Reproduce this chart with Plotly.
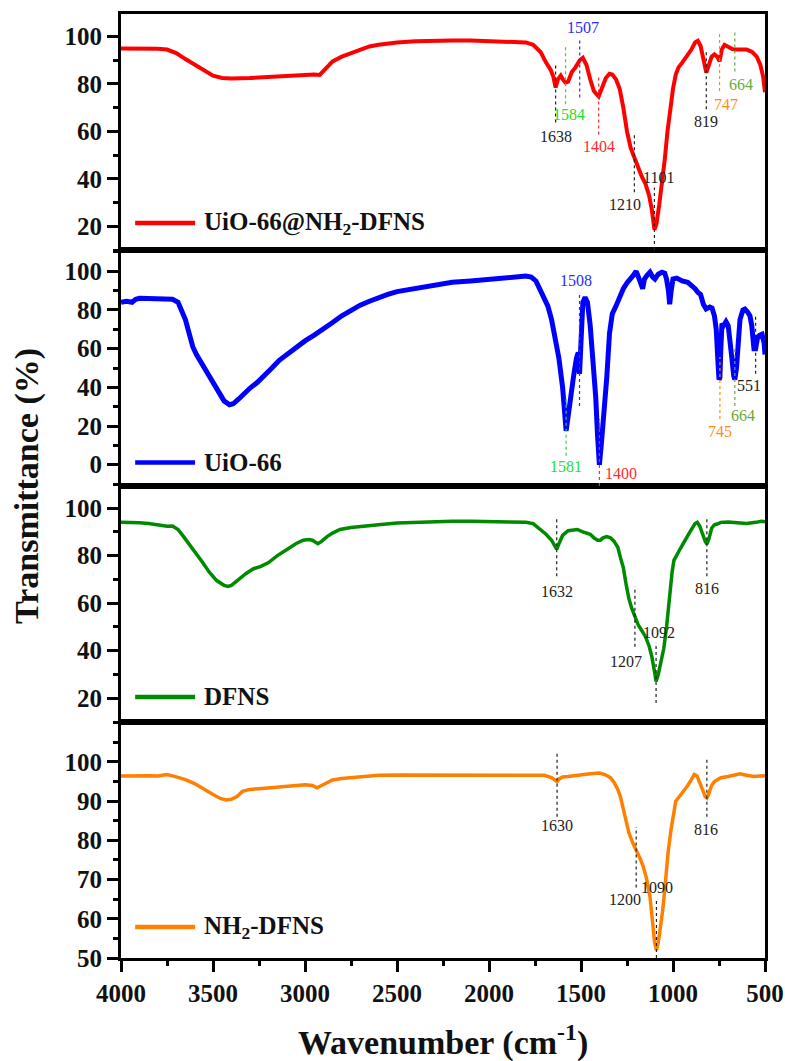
import plotly.graph_objects as go

# ---------------- data ----------------
red_wn = [4000, 3900, 3800, 3750, 3700, 3650, 3600, 3550, 3500, 3450, 3400, 3300, 3200, 3100, 3000, 2950, 2920,
          2900, 2850, 2800, 2750, 2700, 2650, 2600, 2500, 2400, 2300, 2200, 2100, 2000, 1900, 1800, 1760, 1720,
          1690, 1665, 1650, 1638, 1625, 1610, 1595, 1584, 1570, 1550, 1530, 1507, 1490, 1470, 1450, 1430, 1404,
          1385, 1365, 1345, 1330, 1310, 1290, 1270, 1250, 1230, 1210, 1190, 1170, 1150, 1130, 1115, 1101, 1090,
          1075, 1060, 1045, 1030, 1015, 1000, 985, 970, 950, 925, 900, 880, 865, 850, 835, 819, 805, 790, 775,
          760, 747, 735, 720, 700, 680, 664, 640, 600, 570, 545, 525, 510, 500]
red_t = [95, 95, 94.8, 94.5, 93, 90.5, 88, 85.5, 83.5, 82.5, 82.3, 82.5, 83, 83.5, 83.8, 84, 83.8,
         85.5, 89.5, 91.5, 93, 94.5, 95.8, 96.5, 97.5, 98, 98.3, 98.3, 98.3, 98, 97.8, 97.5, 96.5, 93.5,
         89, 86, 83, 78.5, 82, 83.5, 81.5, 80.6, 81, 85, 87, 90, 91, 88, 82, 77, 74.7,
         78, 82.5, 84.3, 84, 82, 78, 70, 60, 53, 48.5, 45, 41, 38, 33, 27, 18.5, 21,
         29, 38, 48, 60, 70, 78, 84, 87, 89, 91.5, 94.5, 97.5, 98.2, 96, 91, 84.8, 88, 91.5, 92.5,
         91.5, 89.5, 94.5, 96.5, 95.5, 94.8, 94.5, 94.5, 94.5, 93.5, 91.5, 88, 83, 76.5]

blue_wn = [4000, 3970, 3940, 3920, 3900, 3850, 3800, 3750, 3720, 3690, 3670, 3650, 3630, 3610, 3590, 3560, 3530,
           3500, 3470, 3440, 3410, 3390, 3360, 3330, 3300, 3260, 3220, 3180, 3140, 3100, 3050, 3000, 2950, 2900,
           2850, 2800, 2750, 2700, 2650, 2600, 2550, 2500, 2450, 2400, 2350, 2300, 2250, 2200, 2100, 2000, 1950,
           1900, 1850, 1800, 1770, 1745, 1720, 1700, 1680, 1660, 1640, 1620, 1600, 1590, 1581, 1570, 1555, 1540,
           1525, 1515, 1508, 1500, 1490, 1478, 1465, 1450, 1435, 1420, 1410, 1400, 1390, 1375, 1360, 1345, 1330,
           1310, 1290, 1270, 1250, 1230, 1215, 1200, 1190, 1180, 1165, 1155, 1140, 1125, 1110, 1098, 1080, 1060,
           1045, 1035, 1025, 1018, 1010, 1000, 980, 950, 920, 900, 880, 864, 850, 835, 820, 800, 788, 775, 765,
           755, 750, 745, 740, 734, 725, 712, 700, 690, 680, 670, 664, 655, 645, 636, 620, 609, 595, 582, 572,
           560, 551, 540, 528, 516, 505, 500]
blue_t = [84, 84.5, 84, 85.5, 86, 86, 86, 86, 85.5, 84, 80, 75, 68, 61, 57, 52, 48,
          42, 37, 33, 31, 31.5, 34, 37, 39.5, 42.5, 46, 50, 54, 57, 60.5, 64, 67, 70,
          73.5, 77, 80, 82.5, 84.5, 86.5, 88, 89.5, 90.2, 91, 91.8, 92.5, 93.5, 94.3, 95, 96, 96.5,
          96.9, 97, 97.5, 97, 95, 90, 86, 82, 75, 65, 55, 40, 28, 17.5, 25, 38, 46,
          55, 58, 47, 70, 84, 86.5, 84, 72, 55, 35, 15, 0, 10, 25, 45, 68, 78,
          82, 87, 91, 94, 96, 98, 100, 98, 95, 91, 96, 98, 99.5, 97, 96, 98.5, 99.5,
          99, 96, 90, 83, 90, 96, 96.5, 95, 94.3, 93, 91, 89, 88, 83, 80.5, 81.5, 81, 77, 70,
          52, 44, 45, 60, 73, 72, 74, 72, 65, 55, 46, 44, 50, 65, 75, 80, 80.5, 79, 77, 72,
          60, 60, 66, 67, 67.5, 63, 57]

green_wn = [4000, 3950, 3900, 3850, 3800, 3750, 3720, 3690, 3660, 3630, 3600, 3560, 3520, 3480, 3440, 3420, 3400,
            3360, 3320, 3280, 3240, 3200, 3150, 3100, 3050, 3010, 2980, 2960, 2930, 2910, 2880, 2850, 2810, 2750,
            2700, 2650, 2600, 2500, 2400, 2300, 2200, 2100, 2000, 1900, 1800, 1760, 1720, 1690, 1660, 1640, 1632,
            1620, 1600, 1570, 1540, 1520, 1490, 1470, 1450, 1430, 1410, 1395, 1380, 1360, 1340, 1320, 1300, 1285,
            1270, 1255, 1240, 1225, 1207, 1190, 1170, 1150, 1130, 1115, 1100, 1092, 1080, 1065, 1050, 1035, 1020,
            1005, 995, 980, 960, 945, 925, 900, 880, 868, 855, 840, 825, 816, 805, 790, 775, 760, 740, 700, 650,
            600, 550, 520, 500]
green_t = [94, 94, 93.8, 93.5, 93, 92.4, 92.5, 91, 88, 85, 82, 77.5, 73, 69.5, 67.5, 67, 67.5,
           70, 72.5, 74.5, 75.5, 77, 80, 82.5, 85, 86.5, 86.8, 86.5, 85, 86, 88, 89.5, 91, 91.8,
           92.3, 92.5, 93, 93.7, 94, 94.5, 94.5, 94.5, 94.3, 94.3, 94, 93.5, 91, 89, 86.5, 83.5, 82.7,
           85, 88.5, 90.5, 91, 91, 90, 89.5, 89, 87.5, 86.5, 86.5, 87.5, 88, 87.5, 86, 83.5, 79,
           75, 68, 62, 58, 54.3, 51, 48.5, 46, 42, 37.5, 31, 27, 30, 35, 41, 50, 62,
           73, 78, 80.5, 83, 85, 88, 91, 93.5, 94, 92.5, 89, 86, 84.8, 87, 91.5, 93, 93.3, 94, 94.2, 93.8,
           93.5, 94, 94.5, 94.3]

orange_wn = [4000, 3950, 3900, 3850, 3800, 3750, 3700, 3650, 3600, 3550, 3500, 3460, 3430, 3400, 3370, 3340, 3300,
             3250, 3200, 3150, 3100, 3050, 3000, 2960, 2935, 2910, 2880, 2850, 2800, 2750, 2700, 2650, 2600, 2500,
             2400, 2300, 2200, 2100, 2000, 1900, 1800, 1750, 1700, 1660, 1640, 1630, 1615, 1600, 1570, 1540, 1500,
             1450, 1400, 1370, 1340, 1320, 1300, 1285, 1270, 1255, 1240, 1220, 1200, 1180, 1163, 1145, 1125, 1110,
             1100, 1090, 1080, 1065, 1054, 1040, 1027, 1010, 995, 985, 965, 945, 920, 900, 885, 870, 855, 840, 825,
             816, 805, 790, 775, 760, 740, 700, 660, 636, 600, 560, 530, 500]
orange_t = [96.4, 96.5, 96.6, 96.5, 96.4, 96.8, 96.2, 95.5, 94.5, 93, 91.7, 90.7, 90.3, 90.5, 91.2, 92.5, 93,
            93.2, 93.4, 93.7, 93.9, 94.1, 94.2, 94, 93.4, 94, 94.8, 95.4, 95.8, 96, 96.2, 96.3, 96.6, 96.7,
            96.7, 96.6, 96.7, 96.6, 96.6, 96.6, 96.7, 96.8, 96.6, 96, 95.3, 95, 95.8, 96.2, 96.3, 96.5, 96.8,
            97, 97.2, 96.8, 96, 94.8, 93, 91, 88, 85, 82, 79.5, 77.6, 75.5, 73.5, 70.5, 65.6, 59,
            54, 52, 54, 59, 63, 70, 76.8, 83, 88, 90, 91.2, 92.3, 94, 95.5, 96.8, 96.5, 95, 93, 91.2,
            90.8, 92, 94, 95, 95.5, 96, 96.3, 96.6, 97, 96.6, 96.3, 96.4, 96.5]

series_names = ["UiO-66@NH<sub>2</sub>-DFNS", "UiO-66", "DFNS", "NH<sub>2</sub>-DFNS"]

x_tickvals = [4000, 3500, 3000, 2500, 2000, 1500, 1000, 500]

# peak annotations: wavenumber, dashed-line top/bottom, label x, label y, colour key
p1_wn = [1638, 1584, 1507, 1404, 1210, 1101, 819, 747, 664]
p1_top = [89, 96.6, 99, 83, 58.7, 36.4, 93.7, 101.7, 102]
p1_bot = [63.8, 71.4, 74.3, 58.7, 34.3, 10, 69.3, 77, 85.3]
p1_lx = [1638, 1565, 1490, 1400, 1262, 1080, 819, 712, 630]
p1_ly = [58, 67, 103.6, 53.7, 29.3, 40.6, 64, 71.4, 79.8]
p1_col = ["k", "g", "b", "r", "k", "k", "k", "o", "ol"]

p2_wn = [1508, 1581, 1400, 745, 664, 551]
p2_top = [88, 35.6, 23.7, 55.7, 61.3, 77.8]
p2_bot = [30.4, 4.6, -11, 23.7, 30.4, 47]
p2_lx = [1525, 1581, 1285, 745, 622, 585]
p2_ly = [95, -1, -4.6, 17, 25.3, 40.7]
p2_col = ["b", "g", "r", "o", "ol", "k"]

p3_wn = [1632, 1207, 1092, 816]
p3_top = [96.6, 67, 43.3, 96.6]
p3_bot = [71.3, 41.7, 18, 71.3]
p3_lx = [1632, 1257, 1075, 816]
p3_ly = [65, 35.3, 47.6, 66]
p3_col = ["k", "k", "k", "k"]

p4_wn = [1630, 1200, 1090, 816]
p4_top = [102.3, 83.4, 65.3, 101.3]
p4_bot = [86, 68, 50, 86]
p4_lx = [1630, 1262, 1085, 822]
p4_ly = [83.9, 64.8, 68, 82.7]
p4_col = ["k", "k", "k", "k"]

# ---------------- styling ----------------
label_colors = {"k": "#222222", "g": "#22e022", "b": "#2b2bff", "r": "#ff2b2b",
                "o": "#ff8c1a", "ol": "#6aaa3a"}
line_colors = ["#ff0000", "#0000ff", "#008a00", "#ff8000"]
line_widths = [4, 5, 3.5, 3.5]
SERIF = "Liberation Serif"

fig = go.Figure()
spectra = [(red_wn, red_t), (blue_wn, blue_t), (green_wn, green_t), (orange_wn, orange_t)]
yrefs = ["y", "y2", "y3", "y4"]
xrefs = ["x", "x2", "x3", "x4"]
for i, (wn, t) in enumerate(spectra):
    fig.add_trace(go.Scatter(x=wn, y=t, mode="lines", xaxis=xrefs[i], yaxis=yrefs[i],
                             line=dict(color=line_colors[i], width=line_widths[i]),
                             name=series_names[i], showlegend=False, hoverinfo="skip"))

panels = [(p1_wn, p1_top, p1_bot, p1_lx, p1_ly, p1_col),
          (p2_wn, p2_top, p2_bot, p2_lx, p2_ly, p2_col),
          (p3_wn, p3_top, p3_bot, p3_lx, p3_ly, p3_col),
          (p4_wn, p4_top, p4_bot, p4_lx, p4_ly, p4_col)]
for i, (wn, top, bot, lx, ly, col) in enumerate(panels):
    for w, t0, b0, x_l, y_l, c in zip(wn, top, bot, lx, ly, col):
        fig.add_shape(type="line", xref=xrefs[i], yref=yrefs[i], x0=w, x1=w, y0=b0, y1=t0,
                      line=dict(color=label_colors[c], width=1.2, dash="dot"))
        fig.add_annotation(xref=xrefs[i], yref=yrefs[i], x=x_l, y=y_l, text=str(w), showarrow=False,
                           xanchor="center", yanchor="middle",
                           font=dict(family=SERIF, size=16, color=label_colors[c]))

# legends (line sample + label) inside each panel
leg_y = [0.114, 0.10, 0.106, 0.131]
for i in range(4):
    xd = xrefs[i] + " domain"
    yd = yrefs[i] + " domain"
    fig.add_shape(type="line", xref=xd, yref=yd, x0=0.022, x1=0.115, y0=leg_y[i], y1=leg_y[i],
                  line=dict(color=line_colors[i], width=4.5))
    fig.add_annotation(xref=xd, yref=yd, x=0.125, y=leg_y[i], text=series_names[i], showarrow=False,
                       xanchor="left", yanchor="middle",
                       font=dict(family=SERIF, size=25, color="#111111", weight="bold"))

tickfont = dict(family=SERIF, size=25, color="#111111", weight="bold")
domains = [[0.75, 1.0], [0.5, 0.75], [0.25, 0.5], [0.0, 0.25]]
yranges = [[10, 109.5], [-11, 111], [10, 109.3], [50, 110.2]]
ytickvals = [[20, 40, 60, 80, 100], [0, 20, 40, 60, 80, 100], [20, 40, 60, 80, 100],
             [50, 60, 70, 80, 90, 100]]
yminor = [10, 10, 10, 5]

layout = dict(width=785, height=1061, margin=dict(l=121, r=20, t=14, b=103, autoexpand=False),
              font=dict(family=SERIF, color="#111111"),
              paper_bgcolor="white", plot_bgcolor="white", showlegend=False)
for i in range(4):
    xk = "xaxis" if i == 0 else f"xaxis{i+1}"
    yk = "yaxis" if i == 0 else f"yaxis{i+1}"
    bottom = (i == 3)
    layout[xk] = dict(range=[4000, 500], anchor=yrefs[i], domain=[0, 1], automargin=False,
                      showline=True, mirror=True, linecolor="black", linewidth=3,
                      showgrid=False, zeroline=False,
                      tickvals=x_tickvals if bottom else [],
                      ticks="outside" if bottom else "", ticklen=11, tickwidth=3, tickcolor="black",
                      showticklabels=bottom, tickfont=tickfont,
                      minor=dict(ticks="outside", ticklen=5, tickwidth=3, tickcolor="black",
                                 dtick=250, tick0=0) if bottom else dict(ticks=""))
    if i > 0:
        layout[xk]["matches"] = "x"
    layout[yk] = dict(range=yranges[i], domain=domains[i], anchor=xrefs[i], automargin=False,
                      showline=True, mirror=True, linecolor="black", linewidth=3,
                      showgrid=False, zeroline=False, tickvals=ytickvals[i],
                      ticks="outside", ticklen=11, tickwidth=3, tickcolor="black",
                      tickfont=tickfont,
                      minor=dict(ticks="outside", ticklen=5, tickwidth=3, tickcolor="black",
                                 dtick=yminor[i], tick0=0))
fig.update_layout(**layout)

# axis titles
fig.add_annotation(xref="paper", yref="paper", x=-0.146, y=0.5, text="Transmittance (%)",
                   textangle=-90, showarrow=False, xanchor="center", yanchor="middle",
                   font=dict(family=SERIF, size=34, color="#111111", weight="bold"))
fig.add_annotation(xref="paper", yref="paper", x=0.5, y=-0.087,
                   text="Wavenumber (cm<sup>-1</sup>)", showarrow=False, xanchor="center",
                   yanchor="middle", font=dict(family=SERIF, size=34, color="#111111", weight="bold"))

# remove the default page margin so the 785x1061 figure fills the window exactly
fig.write_html("out.html", config={"displayModeBar": False, "staticPlot": True},
               post_script="document.body.style.margin='0';document.body.style.overflow='hidden';")
